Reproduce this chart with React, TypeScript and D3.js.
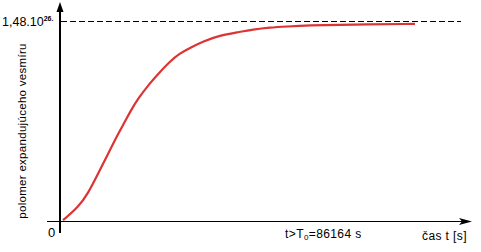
import React from "react";
import * as d3 from "d3";

const times = [0.25, 4, 6.5, 9, 11.5, 14, 15.75, 17, 19, 22, 23.75, 27, 29.5, 32, 35.25, 39.5, 43.75, 47.75, 52, 56.25, 61.25, 72, 88.25];
const radius = [0.01, 0.103, 0.206, 0.353, 0.5, 0.648, 0.74, 0.81, 0.91, 1.024, 1.083, 1.186, 1.245, 1.285, 1.333, 1.377, 1.399, 1.421, 1.436, 1.443, 1.451, 1.458, 1.462];
const limitValue = 1.48;
const yLabel = "polomer expandujúceho vesmíru";
const xLabel = "čas t [s]";

export default function App() {
  const W = 481, H = 252;
  const x = d3.scaleLinear().domain([0, 100]).range([62, 462]);
  const y = d3.scaleLinear().domain([0, limitValue]).range([221.5, 21.5]);
  const line = d3.line<number>().x((_, i) => x(times[i])).y((d) => y(d)).curve(d3.curveBasis);
  const font = "'Liberation Sans', Arial, sans-serif";
  return (
    <svg width={W} height={H} style={{ position: "absolute", left: 0, top: 0 }}>
      <rect width={W} height={H} fill="#fff" />
      <line x1={61} x2={461} y1={y(limitValue)} y2={y(limitValue)} stroke="#000" strokeWidth={1} strokeDasharray="6,3" />
      <line x1={47} x2={462} y1={y(0)} y2={y(0)} stroke="#000" strokeWidth={1} />
      <path d={`M${472},${y(0)} L${459},${y(0) - 3.5} L${462},${y(0)} L${459},${y(0) + 3.5} Z`} fill="#000" />
      <line x1={60} x2={60} y1={233} y2={10} stroke="#000" strokeWidth={2} />
      <path d={`M60,2 L56.5,12 L63.5,12 Z`} fill="#000" />
      <path d={line(radius) || ""} fill="none" stroke="#dd3333" strokeWidth={2.2} />
      <text x={2} y={26} fontFamily={font} fontSize={12.5} fill="#000">1,48.10<tspan fontSize={7} fontWeight="bold" dy={-5}>26.</tspan></text>
      <text x={48} y={237} fontFamily={font} fontSize={13} fill="#000">0</text>
      <text transform={`translate(26,${131}) rotate(-90)`} textAnchor="middle" fontFamily={font} fontSize={11.5} letterSpacing={0.3} fill="#000">{yLabel}</text>
      <text x={285} y={238} fontFamily={font} fontSize={12} letterSpacing={0.4} fill="#000">t&gt;T<tspan fontSize={8} dy={2}>0</tspan><tspan dy={-2}>=86164 s</tspan></text>
      <text x={422} y={240} fontFamily={font} fontSize={12} letterSpacing={0.4} fill="#000">{xLabel}</text>
    </svg>
  );
}
